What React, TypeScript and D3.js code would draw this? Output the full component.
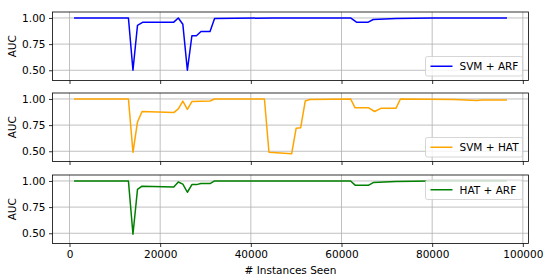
import React, { useRef, useEffect } from 'react';
import * as d3 from 'd3';

// SVM + ARF
const arfX = [1000, 13000, 14000, 15000, 16200, 23000, 24000, 25000, 26000, 27000, 28000, 29000, 31000, 32000, 45000, 62000, 63300, 65900, 67000, 72000, 80000, 96500];
const arfY = [1.0, 1.0, 0.50, 0.93, 0.96, 0.96, 1.0, 0.94, 0.50, 0.83, 0.83, 0.87, 0.87, 0.995, 1.0, 1.0, 0.96, 0.96, 0.985, 0.995, 1.0, 1.0];

// SVM + HAT
const hatX = [1000, 13000, 14000, 15000, 16000, 23000, 24000, 25000, 26000, 27000, 31000, 32000, 43000, 44000, 49000, 50000, 51000, 52000, 53000, 62000, 63000, 66000, 67300, 68700, 72000, 73000, 85000, 89800, 91000, 96500];
const hatY = [1.0, 1.0, 0.49, 0.78, 0.88, 0.87, 0.905, 0.98, 0.90, 0.975, 0.98, 1.0, 1.0, 0.49, 0.475, 0.72, 0.725, 0.98, 0.995, 1.0, 0.915, 0.915, 0.88, 0.91, 0.91, 1.0, 0.995, 0.985, 0.99, 0.99];

// HAT + ARF
const haX = [1000, 13000, 14000, 15000, 16000, 23000, 24000, 25000, 26000, 27000, 28000, 29000, 31000, 32000, 62000, 63000, 66000, 67000, 72000, 80000, 96500];
const haY = [1.0, 1.0, 0.49, 0.92, 0.95, 0.943, 0.99, 0.97, 0.892, 0.965, 0.965, 0.975, 0.975, 1.0, 1.0, 0.96, 0.96, 0.985, 0.995, 1.0, 1.0];

const yTicks = [0.5, 0.75, 1.0];
const xTicks = [0, 20000, 40000, 60000, 80000, 100000];

const panels = [
    { xs: arfX, ys: arfY, color: '#0000ff', label: 'SVM + ARF', top: 12, legend: 'bottom' },
    { xs: hatX, ys: hatY, color: '#ffa500', label: 'SVM + HAT', top: 93, legend: 'bottom' },
    { xs: haX, ys: haY, color: '#008000', label: 'HAT + ARF', top: 175, legend: 'top' },
];

const App = () => {
    const chartRef = useRef(null);

    useEffect(() => {
        d3.select(chartRef.current).selectAll("*").remove();

        const svg = d3.select(chartRef.current)
            .attr("width", 550)
            .attr("height", 280)
            .style("font-family", "DejaVu Sans, sans-serif");

        svg.append("rect").attr("width", 550).attr("height", 280).attr("fill", "white");

        const left = 52.5, right = 528.5, ph = 68.5;
        const x = d3.scaleLinear().domain([-3750, 101250]).range([left, right]);

        panels.forEach((p, i) => {
            const y = d3.scaleLinear().domain([0.402, 1.057]).range([p.top + ph, p.top]);
            const g = svg.append("g");

            // grid
            g.selectAll(".gx").data(xTicks).enter().append("line")
                .attr("x1", d => x(d)).attr("x2", d => x(d))
                .attr("y1", p.top).attr("y2", p.top + ph)
                .attr("stroke", "#b0b0b0").attr("stroke-width", 0.8);
            g.selectAll(".gy").data(yTicks).enter().append("line")
                .attr("x1", left).attr("x2", right)
                .attr("y1", d => y(d)).attr("y2", d => y(d))
                .attr("stroke", "#b0b0b0").attr("stroke-width", 0.8);

            const line = d3.line()
                .x((d, k) => x(p.xs[k]))
                .y(d => y(d));

            g.append("path")
                .datum(p.ys)
                .attr("fill", "none")
                .attr("stroke", p.color)
                .attr("stroke-width", 1.5)
                .attr("stroke-linejoin", "round")
                .attr("d", line);

            // axes
            const ya = g.append("g")
                .attr("transform", `translate(${left},0)`)
                .call(d3.axisLeft(y).tickValues(yTicks).tickFormat(d3.format(".2f")).tickSize(3.5).tickPadding(3.5));
            ya.select(".domain").remove();
            ya.selectAll("text").attr("font-size", 10.5).attr("fill", "#000").attr("font-family", "DejaVu Sans");
            ya.selectAll("line").attr("stroke", "#000").attr("stroke-width", 0.8);

            const xa = g.append("g")
                .attr("transform", `translate(0,${p.top + ph})`)
                .call(d3.axisBottom(x).tickValues(xTicks).tickFormat(i === 2 ? d3.format("d") : () => "").tickSize(3.5).tickPadding(3.5));
            xa.select(".domain").remove();
            xa.selectAll("text").attr("font-size", 10.5).attr("fill", "#000").attr("font-family", "DejaVu Sans");
            xa.selectAll("line").attr("stroke", "#000").attr("stroke-width", 0.8);

            g.append("rect")
                .attr("x", left).attr("y", p.top)
                .attr("width", right - left).attr("height", ph)
                .attr("fill", "none").attr("stroke", "#000").attr("stroke-width", 0.8);

            g.append("text")
                .attr("transform", `translate(15.5,${p.top + ph / 2}) rotate(-90)`)
                .attr("text-anchor", "middle")
                .attr("font-size", 10.5)
                .text("AUC");

            // legend
            const lw = 97, lh = 19.5;
            const lx = right - 6 - lw;
            const ly = p.legend === 'bottom' ? p.top + ph - 4.5 - lh : p.top + 5;
            const lg = g.append("g").attr("transform", `translate(${lx},${ly})`);
            lg.append("rect")
                .attr("width", lw).attr("height", lh).attr("rx", 2)
                .attr("fill", "white").attr("fill-opacity", 0.8)
                .attr("stroke", "#cccccc").attr("stroke-width", 0.8);
            lg.append("line")
                .attr("x1", 5).attr("x2", 27).attr("y1", lh / 2).attr("y2", lh / 2)
                .attr("stroke", p.color).attr("stroke-width", 1.5);
            lg.append("text")
                .attr("x", 34).attr("y", lh / 2 + 3.8)
                .attr("font-size", 10.5)
                .text(p.label);
        });

        svg.append("text")
            .attr("x", (left + right) / 2).attr("y", 274)
            .attr("text-anchor", "middle")
            .attr("font-size", 10.5)
            .text("# Instances Seen");
    }, []);

    return <svg ref={chartRef} style={{ position: 'absolute', left: 0, top: 0 }}></svg>;
};

export default App;
